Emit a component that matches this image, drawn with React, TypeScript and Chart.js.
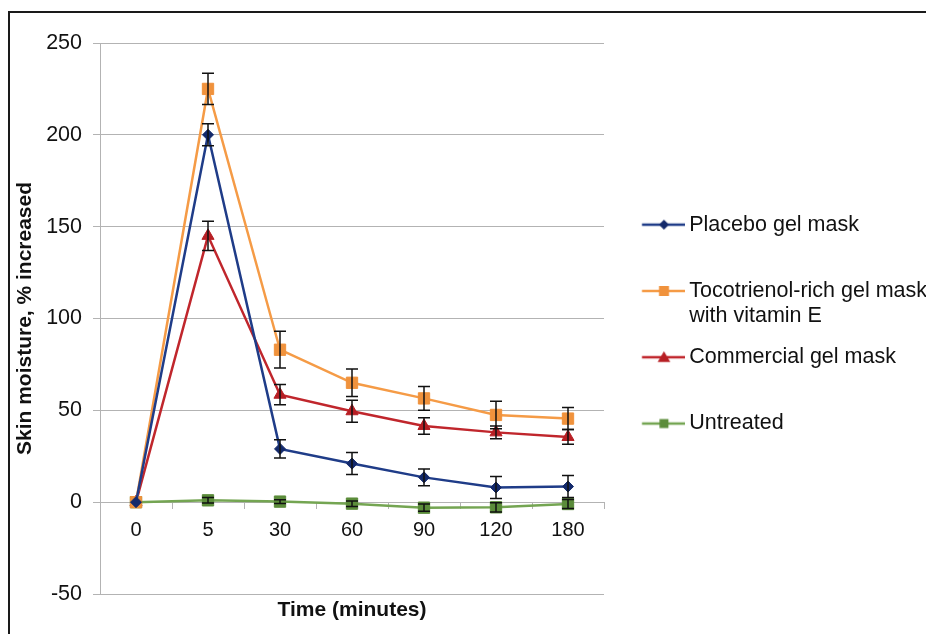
import React, { useEffect, useRef } from 'react';
import { Chart, registerables } from 'chart.js';

Chart.register(...registerables);

// ---- data ----
const timeLabels = ['0', '5', '30', '60', '90', '120', '180'];
const seriesNames = ['Placebo gel mask', 'Tocotrienol-rich gel mask', 'Commercial gel mask', 'Untreated'];
const legendSecondLines = ['', 'with vitamin E', '', ''];

const placeboValues = [0, 200, 29, 21, 13.5, 8, 8.5];
const placeboErrors = [0, 6, 5, 6, 4.5, 6, 6];
const tocotrienolValues = [0, 225, 83, 65, 56.5, 47.5, 45.5];
const tocotrienolErrors = [0, 8.5, 10, 7.5, 6.5, 7.5, 6];
const commercialValues = [0, 145, 58.5, 49.5, 41.5, 38, 35.5];
const commercialErrors = [0, 8, 5.5, 6, 4.5, 3.5, 4];
const untreatedValues = [0, 1, 0.3, -0.8, -3, -2.8, -1];
const untreatedErrors = [0, 1.5, 1, 1.5, 2, 2.5, 2.5];

const yMin = -50;
const yMax = 250;
const yStep = 50;
const xTitle = 'Time (minutes)';
const yTitle = 'Skin moisture, % increased';

const FONT = "'Liberation Sans', Arial, Helvetica, sans-serif";
const GRID = '#b3b3b3';
const TEXT = '#111111';
const LEGEND_WIDTH = 322;

type Shape = 'diamond' | 'square' | 'triangle';

function drawShape(g: CanvasRenderingContext2D, shape: Shape, x: number, y: number, s: number) {
  g.beginPath();
  if (shape === 'diamond') {
    g.moveTo(x, y - s);
    g.lineTo(x + s, y);
    g.lineTo(x, y + s);
    g.lineTo(x - s, y);
  } else if (shape === 'square') {
    g.rect(x - s, y - s, 2 * s, 2 * s);
  } else {
    g.moveTo(x, y - s);
    g.lineTo(x + s * 1.05, y + s * 0.8);
    g.lineTo(x - s * 1.05, y + s * 0.8);
  }
  g.closePath();
  g.fill();
}

function makeLegendIcon(lineColor: string, markColor: string, shape: Shape, size: number) {
  const c = document.createElement('canvas');
  c.width = 72;
  c.height = 22;
  const g = c.getContext('2d')!;
  g.strokeStyle = lineColor;
  g.lineWidth = 2.5;
  g.beginPath();
  g.moveTo(28.75, 11);
  g.lineTo(72, 11);
  g.stroke();
  g.fillStyle = markColor;
  drawShape(g, shape, 50.75, 11, size);
  return c;
}

const errorBarPlugin = {
  id: 'errorBars',
  afterDatasetsDraw(chart: any) {
    const ctx = chart.ctx;
    const yScale = chart.scales.y;
    ctx.save();
    ctx.strokeStyle = '#111111';
    ctx.lineWidth = 1.5;
    chart.data.datasets.forEach((ds: any, i: number) => {
      const meta = chart.getDatasetMeta(i);
      const errs: number[] = ds.errorBars || [];
      meta.data.forEach((pt: any, j: number) => {
        const e = errs[j];
        if (!e) return;
        const v = ds.data[j] as number;
        const x = pt.x;
        const yT = yScale.getPixelForValue(v + e);
        const yB = yScale.getPixelForValue(v - e);
        ctx.beginPath();
        ctx.moveTo(x, yT);
        ctx.lineTo(x, yB);
        ctx.moveTo(x - 6, yT);
        ctx.lineTo(x + 6, yT);
        ctx.moveTo(x - 6, yB);
        ctx.lineTo(x + 6, yB);
        ctx.stroke();
      });
    });
    ctx.restore();
  },
};

// give the right-hand legend a fixed width so the plot area ends where the reference's does
const legendWidthPlugin = {
  id: 'legendWidth',
  beforeLayout(chart: any) {
    const lg = chart.legend;
    if (lg && !lg.__fixedWidth) {
      const orig = lg.fit.bind(lg);
      lg.fit = function () {
        orig();
        this.width = LEGEND_WIDTH;
      };
      lg.__fixedWidth = true;
    }
  },
};

export default function App() {
  const ref = useRef<HTMLCanvasElement>(null);

  useEffect(() => {
    if (!ref.current) return;
    Chart.defaults.font.family = FONT;
    Chart.defaults.color = TEXT;

    const colors = [
      { line: '#1f3c88', mark: '#13296b', shape: 'diamond' as Shape, legendSize: 5 },
      { line: '#f59b46', mark: '#f0923c', shape: 'square' as Shape, legendSize: 5 },
      { line: '#c0262c', mark: '#b71f24', shape: 'triangle' as Shape, legendSize: 6 },
      { line: '#74a552', mark: '#5b8c3a', shape: 'square' as Shape, legendSize: 4.5 },
    ];
    const icons = colors.map((c) => makeLegendIcon(c.line, c.mark, c.shape, c.legendSize));

    const mk = (i: number, data: number[], errs: number[], pointStyle: string, radius: number) => ({
      label: seriesNames[i],
      data,
      errorBars: errs,
      borderColor: colors[i].line,
      backgroundColor: colors[i].mark,
      borderWidth: 2.5,
      pointStyle,
      pointRadius: radius,
      pointBackgroundColor: colors[i].mark,
      pointBorderColor: colors[i].mark,
      pointBorderWidth: 1,
      tension: 0,
      fill: false,
    });

    const chart = new Chart(ref.current, {
      type: 'line',
      data: {
        labels: timeLabels,
        datasets: [
          mk(0, placeboValues, placeboErrors, 'rectRot', 5.5),
          mk(1, tocotrienolValues, tocotrienolErrors, 'rect', 8),
          mk(2, commercialValues, commercialErrors, 'triangle', 7),
          mk(3, untreatedValues, untreatedErrors, 'rect', 8),
        ] as any,
      },
      options: {
        responsive: false,
        animation: false,
        events: [],
        layout: { padding: { left: 10, right: 0, top: 43, bottom: 0 } },
        scales: {
          x: {
            type: 'category',
            position: { y: 0 } as any,
            offset: true,
            grid: {
              display: true,
              drawOnChartArea: false,
              drawTicks: true,
              tickLength: 6,
              offset: true,
              color: GRID,
            },
            border: { display: true, color: GRID, width: 1 },
            ticks: { color: TEXT, font: { size: 20 }, padding: 10, maxRotation: 0 },
          },
          x2: {
            type: 'category',
            axis: 'x',
            position: 'bottom',
            offset: true,
            grid: { display: false },
            border: { display: false },
            ticks: { display: false },
            title: {
              display: true,
              text: xTitle,
              color: TEXT,
              font: { size: 21, weight: 'bold' },
              padding: { top: 0, bottom: 11 },
            },
            afterFit: (s: any) => {
              s.height = 40;
            },
          } as any,
          y: {
            min: yMin,
            max: yMax,
            position: 'left',
            ticks: { stepSize: yStep, color: TEXT, font: { size: 21.5 }, padding: 11 },
            grid: { color: GRID, lineWidth: 1, drawTicks: true, tickLength: 7 },
            border: { display: true, color: GRID, width: 1 },
            title: {
              display: true,
              text: yTitle,
              color: TEXT,
              font: { size: 21, weight: 'bold' },
              padding: { top: 3, bottom: 0 },
            },
            afterFit: (s: any) => {
              s.width = 90;
            },
          },
        },
        plugins: {
          tooltip: { enabled: false },
          title: { display: false },
          legend: {
            display: true,
            position: 'right',
            align: 'center',
            labels: {
              usePointStyle: true,
              pointStyleWidth: 58.5,
              padding: 16,
              color: TEXT,
              font: { size: 21.5, lineHeight: 1.17 },
              generateLabels: (c: any) =>
                c.data.datasets.map((ds: any, i: number) => ({
                  text: [ds.label, legendSecondLines[i]],
                  pointStyle: icons[i],
                  fillStyle: colors[i].mark,
                  strokeStyle: colors[i].line,
                  lineWidth: 0,
                  hidden: false,
                  datasetIndex: i,
                  fontColor: TEXT,
                })),
            },
          } as any,
        },
      },
      plugins: [legendWidthPlugin, errorBarPlugin],
    } as any);

    return () => chart.destroy();
  }, []);

  return (
    <div
      style={{
        position: 'absolute',
        left: 0,
        top: 0,
        width: 926,
        height: 634,
        background: '#ffffff',
        overflow: 'hidden',
      }}
    >
      <div
        style={{
          position: 'absolute',
          left: 8,
          top: 11,
          width: 940,
          height: 660,
          borderLeft: '2px solid #1a1a1a',
          borderTop: '2px solid #1a1a1a',
        }}
      />
      <canvas ref={ref} width={926} height={634} style={{ position: 'absolute', left: 0, top: 0 }} />
    </div>
  );
}
